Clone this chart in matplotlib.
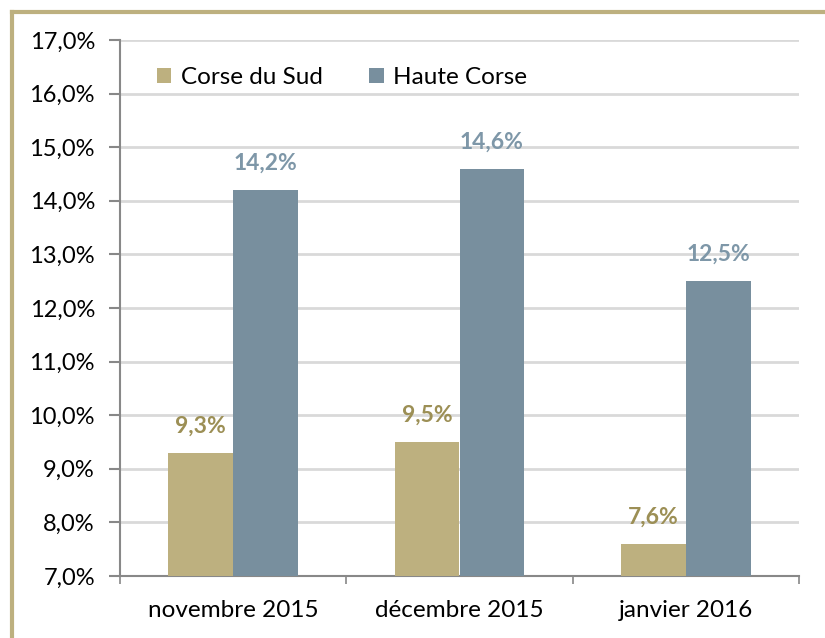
import matplotlib
matplotlib.use("Agg")
import matplotlib.pyplot as plt
from matplotlib.lines import Line2D
import numpy as np

categories = ["novembre 2015", "décembre 2015", "janvier 2016"]
corse_sud = [9.3, 9.5, 7.6]
haute_corse = [14.2, 14.6, 12.5]
series_names = ["Corse du Sud", "Haute Corse"]
yticks = [7, 8, 9, 10, 11, 12, 13, 14, 15, 16, 17]

c_sud = "#BDB07F"
c_haute = "#788F9E"
c_sud_lbl = "#9C8F55"
c_haute_lbl = "#7E97A8"

plt.rcParams['font.family'] = ['Lato', 'DejaVu Sans']

W, H = 825, 638
fig = plt.figure(figsize=(W/100, H/100), dpi=100)
ax = fig.add_axes([120/W, 1-576/H, (799-120)/W, (576-40)/H])

x = np.arange(len(categories))
bw = 0.287
ax.bar(x - bw/2, corse_sud, bw, color=c_sud, label=series_names[0], zorder=3)
ax.bar(x + bw/2, haute_corse, bw, color=c_haute, label=series_names[1], zorder=3)

for xi, v in zip(x, corse_sud):
    ax.text(xi - bw/2, v + 0.3, f"{v:.1f}%".replace('.', ','), ha='center', va='bottom',
            fontsize=16.5, fontweight='bold', color=c_sud_lbl)
for xi, v in zip(x, haute_corse):
    ax.text(xi + bw/2, v + 0.3, f"{v:.1f}%".replace('.', ','), ha='center', va='bottom',
            fontsize=16.5, fontweight='bold', color=c_haute_lbl)

ax.set_ylim(7, 17)
ax.set_xlim(-0.5, 2.5)
ax.set_yticks(yticks)
ax.set_yticklabels([f"{t:.1f}%".replace('.', ',') for t in yticks], fontsize=17)
ax.set_xticks(x)
ax.set_xticklabels(categories, fontsize=17.5)
ax.tick_params(axis='x', length=0, pad=17)
ax.set_xticks([-0.5, 0.5, 1.5, 2.5], minor=True)
ax.tick_params(axis='x', which='minor', length=6, color='#888888', width=1.2)
ax.tick_params(axis='y', length=8, color='#888888', width=1.5, pad=10)

ax.grid(axis='y', color='#D9D9D9', linewidth=2, zorder=0)
for s in ['top', 'right']:
    ax.spines[s].set_visible(False)
for s in ['left', 'bottom']:
    ax.spines[s].set_color('#888888')
    ax.spines[s].set_linewidth(1.5)

leg = ax.legend(loc='upper left', bbox_to_anchor=(0.022, 0.99), ncol=2, frameon=False,
                fontsize=17.5, handlelength=0.6, handleheight=0.6, handletextpad=0.4,
                columnspacing=1.9)

# outer frame
fig.add_artist(Line2D([12/W, 12/W], [0, 1-12/H], color=c_sud, linewidth=3, transform=fig.transFigure))
fig.add_artist(Line2D([12/W, 1], [1-12/H, 1-12/H], color=c_sud, linewidth=3, transform=fig.transFigure))

fig.savefig("out.png", dpi=100)
